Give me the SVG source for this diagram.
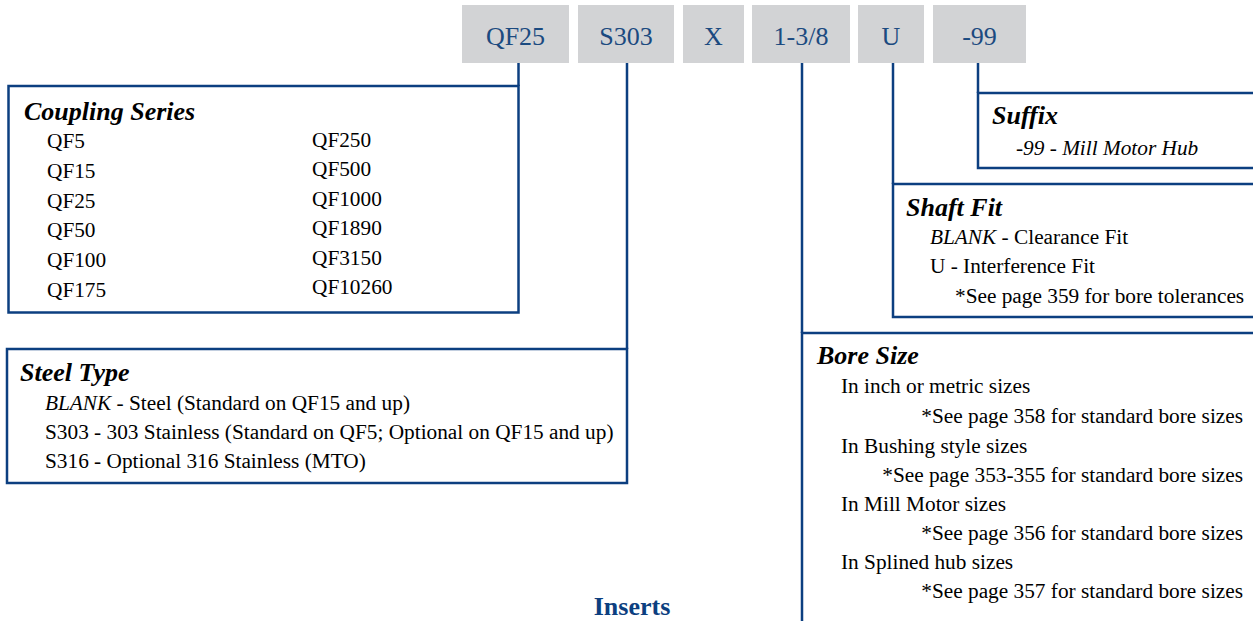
<svg xmlns="http://www.w3.org/2000/svg" width="1253" height="621" viewBox="0 0 1253 621">
<style>
  .bg{fill:#ffffff}
  .code{fill:#d2d3d5}
  .codetxt{font-family:"Liberation Serif",serif;font-size:26px;fill:#1b4a80;text-anchor:middle}
  .ln{fill:none;stroke:#0c3f80;stroke-width:2.5}
  .title{font-family:"Liberation Serif",serif;font-size:26px;font-weight:bold;font-style:italic;fill:#000}
  .item{font-family:"Liberation Serif",serif;font-size:21.3px;fill:#000}
  .it{font-style:italic}
  .end{text-anchor:end}
  .inserts{font-family:"Liberation Serif",serif;font-size:26px;font-weight:bold;fill:#0c3f80;text-anchor:middle}
</style>
<rect class="bg" x="0" y="0" width="1253" height="621"/>

<g id="code-qf25"><rect class="code" x="462" y="5" width="107" height="58"/><text class="codetxt" x="515.5" y="45">QF25</text></g>
<g id="code-s303"><rect class="code" x="578" y="5" width="96" height="58"/><text class="codetxt" x="626" y="45">S303</text></g>
<g id="code-x"><rect class="code" x="683" y="5" width="61" height="58"/><text class="codetxt" x="713.5" y="45">X</text></g>
<g id="code-bore"><rect class="code" x="752" y="5" width="98" height="58"/><text class="codetxt" x="801" y="45">1-3/8</text></g>
<g id="code-u"><rect class="code" x="858" y="5" width="66" height="58"/><text class="codetxt" x="891" y="45">U</text></g>
<g id="code-99"><rect class="code" x="933" y="5" width="93" height="58"/><text class="codetxt" x="979.5" y="45">-99</text></g>

<g id="connectors">
  <path class="ln" d="M518.5,63 V86"/>
  <path class="ln" d="M627,63 V349"/>
  <path class="ln" d="M802,63 V333"/>
  <path class="ln" d="M893,63 V184"/>
  <path class="ln" d="M978,63 V93"/>
</g>

<g id="coupling-series">
  <rect class="ln" x="8.5" y="86" width="510" height="226.5"/>
  <text class="title" x="24" y="120">Coupling Series</text>
  <text class="item" x="47" y="148">QF5</text>
  <text class="item" x="47" y="178">QF15</text>
  <text class="item" x="47" y="207.5">QF25</text>
  <text class="item" x="47" y="237">QF50</text>
  <text class="item" x="47" y="267">QF100</text>
  <text class="item" x="47" y="297">QF175</text>
  <text class="item" x="312" y="147">QF250</text>
  <text class="item" x="312" y="176">QF500</text>
  <text class="item" x="312" y="205.5">QF1000</text>
  <text class="item" x="312" y="235">QF1890</text>
  <text class="item" x="312" y="264.5">QF3150</text>
  <text class="item" x="312" y="294">QF10260</text>
</g>

<g id="steel-type">
  <rect class="ln" x="7" y="349" width="620" height="134"/>
  <text class="title" x="20" y="381">Steel Type</text>
  <text class="item" x="45" y="410"><tspan class="it">BLANK</tspan> - Steel (Standard on QF15 and up)</text>
  <text class="item" x="45" y="439">S303 - 303 Stainless (Standard on QF5; Optional on QF15 and up)</text>
  <text class="item" x="45" y="468">S316 - Optional 316 Stainless (MTO)</text>
</g>

<g id="suffix">
  <path class="ln" d="M1254,93 H978 V168 H1254"/>
  <text class="title" x="992" y="124">Suffix</text>
  <text class="item it" x="1016" y="155">-99 - Mill Motor Hub</text>
</g>

<g id="shaft-fit">
  <path class="ln" d="M1254,184 H893 V317 H1254"/>
  <text class="title" x="906" y="216">Shaft Fit</text>
  <text class="item" x="930" y="244"><tspan class="it">BLANK</tspan> - Clearance Fit</text>
  <text class="item" x="930" y="273">U - Interference Fit</text>
  <text class="item" x="955" y="303">*See page 359 for bore tolerances</text>
</g>

<g id="bore-size">
  <path class="ln" d="M1254,333 H802 V622"/>
  <text class="title" x="817" y="364">Bore Size</text>
  <text class="item" x="841" y="393">In inch or metric sizes</text>
  <text class="item end" x="1243" y="423">*See page 358 for standard bore sizes</text>
  <text class="item" x="841" y="453">In Bushing style sizes</text>
  <text class="item end" x="1243" y="482">*See page 353-355 for standard bore sizes</text>
  <text class="item" x="841" y="511">In Mill Motor sizes</text>
  <text class="item end" x="1243" y="540">*See page 356 for standard bore sizes</text>
  <text class="item" x="841" y="569">In Splined hub sizes</text>
  <text class="item end" x="1243" y="598">*See page 357 for standard bore sizes</text>
</g>

<g id="inserts">
  <text class="inserts" x="632" y="615">Inserts</text>
</g>
</svg>
